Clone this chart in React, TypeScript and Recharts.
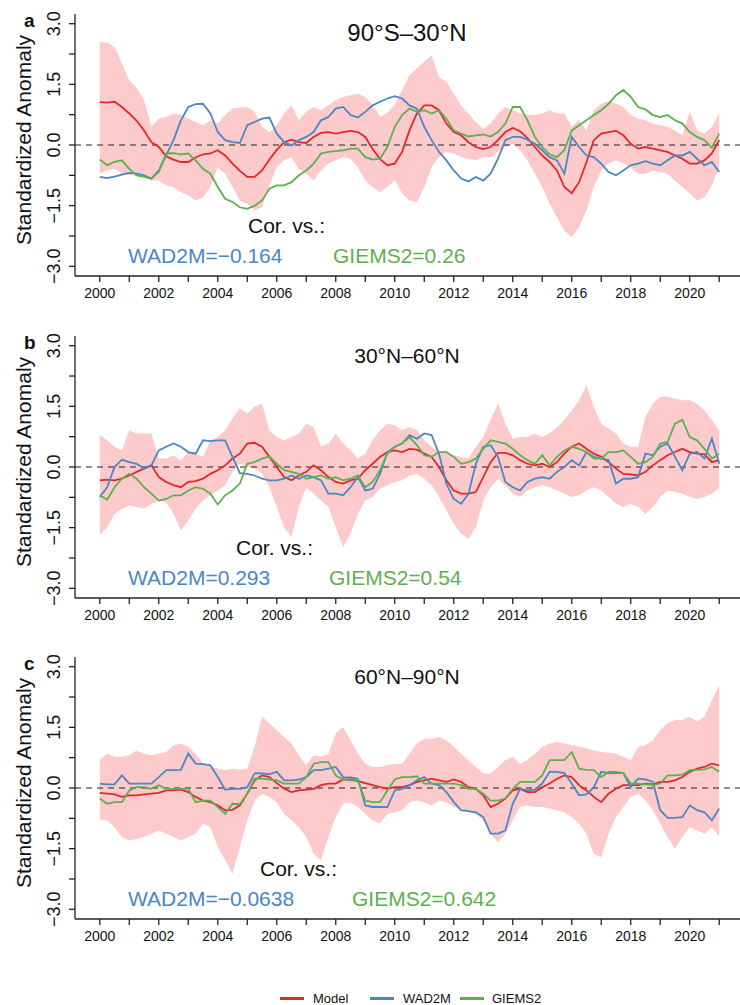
import React from 'react';
import { Area, ComposedChart, Line, ReferenceLine, XAxis, YAxis } from 'recharts';

// quarterly time axis, 2000.00 .. 2021.00
const years = Array.from({ length: 85 }, (_, i) => 2000 + i / 4);

// ---- panel a: 90°S–30°N
const aModel = [
  1.06, 1.05, 1.07, 0.94, 0.78, 0.6, 0.36, 0.07, -0.05, -0.28, -0.36, -0.42,
  -0.42, -0.31, -0.23, -0.21, -0.13, -0.26, -0.46, -0.64, -0.79, -0.79, -0.63, -0.36,
  -0.12, 0.07, 0.13, 0.07, 0.05, 0.2, 0.3, 0.32, 0.28, 0.32, 0.35, 0.32,
  0.2, -0.1, -0.35, -0.5, -0.46, -0.17, 0.36, 0.78, 0.98, 0.98, 0.86, 0.53,
  0.32, 0.24, 0.07, -0.05, -0.1, -0.05, 0.12, 0.32, 0.42, 0.34, 0.17, -0.05,
  -0.26, -0.42, -0.63, -1.04, -1.19, -0.92, -0.42, 0.12, 0.28, 0.32, 0.35, 0.24,
  0.03, -0.09, -0.05, -0.09, -0.13, -0.17, -0.26, -0.34, -0.46, -0.46, -0.38, -0.21, 0.12,
];
const aWad = [
  -0.79, -0.82, -0.78, -0.73, -0.69, -0.71, -0.75, -0.83, -0.63, -0.26, 0.12, 0.61,
  0.94, 1.01, 1.02, 0.78, 0.32, 0.12, 0.07, 0.05, 0.49, 0.57, 0.65, 0.68,
  0.28, 0.07, -0.01, 0.12, 0.2, 0.32, 0.61, 0.69, 0.9, 0.94, 0.74, 0.68,
  0.82, 0.98, 1.07, 1.15, 1.21, 1.15, 0.98, 0.9, 0.45, 0.12, -0.17, -0.38,
  -0.63, -0.83, -0.9, -0.79, -0.88, -0.71, -0.34, 0.12, 0.2, 0.2, 0.13, 0.03,
  -0.13, -0.3, -0.38, -0.71, 0.2, -0.05, -0.26, -0.3, -0.46, -0.67, -0.75, -0.63,
  -0.5, -0.46, -0.4, -0.46, -0.5, -0.38, -0.26, -0.26, -0.17, -0.34, -0.5, -0.42, -0.67,
];
const aGiems = [
  -0.36, -0.5, -0.42, -0.38, -0.59, -0.75, -0.79, -0.83, -0.67, -0.21, -0.2, -0.23,
  -0.21, -0.38, -0.59, -0.71, -1.04, -1.33, -1.41, -1.54, -1.58, -1.5, -1.37, -1.08,
  -1.0, -1.0, -0.92, -0.75, -0.63, -0.46, -0.21, -0.17, -0.15, -0.13, -0.09, -0.09,
  -0.3, -0.36, -0.34, -0.05, 0.45, 0.74, 0.9, 0.82, 0.86, 0.78, 0.86, 0.65,
  0.36, 0.28, 0.21, 0.24, 0.26, 0.21, 0.32, 0.53, 0.94, 0.94, 0.61, 0.2,
  -0.05, -0.23, -0.3, -0.13, 0.36, 0.49, 0.61, 0.74, 0.86, 1.02, 1.23, 1.36,
  1.19, 0.94, 0.88, 0.74, 0.69, 0.74, 0.61, 0.53, 0.32, 0.2, 0.12, -0.07, 0.28,
];
const aHigh = [
  2.55, 2.53, 2.43, 2.02, 1.6, 1.42, 1.11, 0.45, 0.65, 0.69, 0.78, 0.74,
  0.65, 0.57, 0.49, 0.61, 0.53, 0.74, 0.9, 0.93, 0.94, 0.82, 0.45, 0.32,
  0.49, 0.78, 0.98, 0.61, 0.82, 0.94, 0.86, 0.98, 1.11, 1.19, 1.23, 1.27,
  1.19, 1.0, 0.7, 0.8, 1.0, 1.36, 1.73, 1.89, 2.06, 2.22, 1.69, 1.56,
  1.27, 0.98, 0.78, 0.57, 0.4, 0.53, 0.78, 0.94, 0.86, 0.78, 0.74, 0.74,
  0.78, 0.86, 0.78, 0.78, 0.45, 0.61, 0.36, 0.86, 1.02, 1.09, 1.02, 0.94,
  0.74, 0.65, 0.61, 0.53, 0.49, 0.45, 0.36, 0.24, 0.82, 0.36, 0.28, 0.45, 0.78,
];
const aLow = [
  -0.71, -0.63, -0.59, -0.71, -0.75, -0.75, -0.79, -0.88, -0.88, -1.0, -1.04, -1.17,
  -1.25, -1.37, -1.29, -1.04, -0.55, -0.71, -1.04, -1.37, -1.45, -1.62, -1.54, -1.0,
  -0.55, -0.38, -0.3, -0.6, -0.71, -0.88, -0.63, -0.46, -0.38, -0.3, -0.34, -0.55,
  -0.88, -1.04, -1.17, -1.04, -0.88, -1.2, -1.37, -1.41, -1.04, -0.55, -0.3, -0.17,
  -0.21, -0.3, -0.34, -0.38, -0.3, -0.3, -0.17, -0.05, 0.03, -0.13, -0.38, -0.71,
  -1.04, -1.45, -1.79, -2.12, -2.28, -2.03, -1.62, -1.04, -0.63, -0.46, -0.38, -0.46,
  -0.55, -0.71, -0.71, -0.63, -0.67, -0.71, -0.88, -1.04, -1.2, -1.37, -1.29, -1.0, -0.55,
];

// ---- panel b: 30°N–60°N
const bModel = [
  -0.33, -0.31, -0.33, -0.29, -0.21, -0.12, -0.04, 0.04, -0.25, -0.37, -0.45, -0.5,
  -0.37, -0.35, -0.29, -0.17, -0.08, 0.04, 0.21, 0.33, 0.58, 0.6, 0.5, 0.25,
  0, -0.25, -0.33, -0.21, -0.12, 0.04, -0.08, -0.25, -0.37, -0.41, -0.33, -0.29,
  -0.08, 0.08, 0.25, 0.37, 0.41, 0.37, 0.45, 0.43, 0.33, 0.25, 0, -0.33,
  -0.58, -0.66, -0.66, -0.62, -0.25, 0.12, 0.35, 0.35, 0.29, 0.17, 0.08, 0.04,
  0.08, 0, 0.12, 0.33, 0.5, 0.58, 0.45, 0.33, 0.25, 0.12, -0.04, -0.17,
  -0.18, -0.21, -0.12, 0.04, 0.17, 0.29, 0.37, 0.45, 0.37, 0.33, 0.31, 0.12, 0.17,
];
const bWad = [
  -0.74, -0.5, 0, 0.18, 0.12, 0.08, -0.04, 0.04, 0.41, 0.5, 0.58, 0.5,
  0.37, 0.33, 0.66, 0.64, 0.66, 0.66, 0.25, -0.15, -0.17, -0.21, -0.29, -0.33,
  -0.33, -0.29, -0.21, -0.29, -0.21, -0.25, -0.33, -0.66, -0.66, -0.7, -0.5, -0.25,
  -0.58, -0.54, -0.17, 0.37, 0.5, 0.58, 0.79, 0.7, 0.83, 0.79, 0.33, -0.41,
  -0.79, -0.91, -0.66, 0.08, 0.5, 0.54, 0.25, -0.37, -0.5, -0.58, -0.37, -0.29,
  -0.25, -0.29, -0.12, 0, 0.17, 0.04, 0.37, 0.25, 0.21, 0.17, -0.41, -0.29,
  -0.29, -0.25, 0.33, 0.29, 0.5, 0.58, 0.25, -0.08, 0.33, 0.37, 0.21, 0.7, 0.08,
];
const bGiems = [
  -0.7, -0.81, -0.5, -0.29, -0.17, -0.29, -0.5, -0.66, -0.83, -0.79, -0.7, -0.7,
  -0.58, -0.5, -0.54, -0.66, -0.93, -0.7, -0.58, -0.41, 0.08, 0.12, 0.21, 0.26,
  0.08, -0.08, -0.12, -0.17, -0.29, -0.25, -0.21, -0.29, -0.25, -0.33, -0.29, -0.21,
  -0.5, -0.37, -0.08, 0.33, 0.5, 0.58, 0.74, 0.54, 0.29, 0.25, 0.37, 0.37,
  0.25, 0.08, 0.12, 0.21, 0.45, 0.66, 0.62, 0.58, 0.45, 0.29, 0.17, 0.08,
  0.29, 0.04, 0.25, 0.41, 0.5, 0.45, 0.37, 0.21, 0.21, 0.37, 0.37, 0.41,
  0.25, 0.08, 0.12, 0.25, 0.58, 0.62, 1.07, 1.17, 0.74, 0.66, 0.45, 0.21, 0.33,
];
const bHigh = [
  0.79, 0.66, 0.5, 0.41, 0.91, 0.83, 0.83, 0.83, 0.21, 0.21, 0.29, 0.17,
  0.37, 0.33, 0.25, 0.66, 0.74, 0.91, 1.2, 1.45, 1.32, 1.49, 1.57, 0.91,
  0.74, 0.66, 0.74, 0.83, 1.07, 0.99, 0.5, 0.58, 0.83, 0.58, 0.41, 0.21,
  0.33, 0.66, 0.91, 1.07, 1.03, 0.91, 0.99, 0.91, 0.66, 0.5, 0.37, 0.37,
  0.29, 0.25, 0.21, 0.5, 0.74, 1.16, 1.57, 1.07, 0.7, 0.74, 0.74, 0.83,
  0.74, 0.83, 0.99, 1.16, 1.4, 1.65, 2.02, 1.49, 1.07, 0.95, 0.83, 0.58,
  0.5, 0.5, 1.24, 1.57, 1.74, 1.74, 1.69, 1.65, 1.65, 1.57, 1.4, 1.16, 0.91,
];
const bLow = [
  -1.69, -1.49, -1.16, -1.03, -0.95, -0.99, -1.03, -0.91, -0.83, -0.87, -1.16, -1.57,
  -1.32, -1.03, -0.83, -0.7, -0.58, -0.45, -0.12, 0.08, 0, -0.04, -0.17, -0.5,
  -0.99, -1.49, -1.74, -0.99, -0.5, -0.66, -0.83, -0.99, -1.49, -1.98, -1.65, -1.16,
  -0.83, -0.74, -0.54, -0.45, -0.37, -0.33, -0.21, -0.17, -0.29, -0.45, -0.74, -1.07,
  -1.4, -1.65, -1.78, -1.49, -0.83, -0.5, -0.29, -0.45, -0.66, -0.74, -0.58, -0.5,
  -0.45, -0.5, -0.58, -0.66, -0.74, -0.7, -0.58, -0.5, -0.58, -0.74, -0.91, -0.99,
  -0.91, -0.99, -1.16, -0.99, -0.74, -0.58, -0.62, -0.66, -0.74, -0.79, -0.74, -0.66, -0.5,
];

// ---- panel c: 60°N–90°N
const cModel = [
  -0.12, -0.14, -0.16, -0.22, -0.18, -0.18, -0.16, -0.14, -0.12, -0.06, -0.06, -0.04,
  -0.1, -0.22, -0.31, -0.35, -0.43, -0.55, -0.54, -0.43, -0.14, 0.19, 0.31, 0.27,
  0.12, -0.02, -0.1, -0.06, -0.04, -0.02, 0.07, 0.11, 0.11, 0.21, 0.21, 0.17,
  0.12, 0.07, 0.02, -0.02, 0.02, 0.02, 0.07, 0.15, 0.19, 0.23, 0.19, 0.15,
  0.21, 0.15, 0.02, -0.02, -0.18, -0.47, -0.39, -0.26, -0.06, -0.02, -0.1, -0.1,
  0.02, 0.11, 0.23, 0.31, 0.27, 0.07, -0.06, -0.22, -0.35, -0.14, -0.02, 0.07,
  0.07, 0.07, 0.11, 0.09, 0.15, 0.15, 0.19, 0.27, 0.4, 0.48, 0.52, 0.6, 0.56,
];
const cWad = [
  0.11, 0.09, 0.09, 0.31, 0.11, 0.11, 0.11, 0.11, 0.27, 0.44, 0.44, 0.45,
  0.85, 0.6, 0.59, 0.56, 0.27, -0.04, -0.02, -0.02, 0.02, 0.36, 0.36, 0.34,
  0.4, 0.19, 0.19, 0.21, 0.27, 0.44, 0.44, 0.48, 0.52, 0.27, 0.26, 0.23,
  -0.43, -0.47, -0.47, -0.47, -0.06, -0.02, 0.07, 0.19, 0.27, 0.11, 0.07, -0.1,
  -0.35, -0.55, -0.57, -0.6, -0.72, -1.13, -1.13, -1.05, -0.39, -0.02, -0.06, -0.04,
  0.11, 0.4, 0.4, 0.37, 0.11, -0.18, -0.16, 0.02, 0.4, 0.37, 0.37, 0.37,
  0.02, 0.23, 0.21, 0.15, -0.55, -0.74, -0.74, -0.72, -0.43, -0.55, -0.6, -0.8, -0.51,
];
const cGiems = [
  -0.26, -0.39, -0.35, -0.35, -0.06, 0.02, 0.02, -0.02, 0.07, -0.02, -0.02, -0.02,
  -0.02, -0.35, -0.31, -0.31, -0.47, -0.64, -0.39, -0.4, -0.14, 0.23, 0.23, 0.21,
  0.19, 0.11, 0.11, 0.11, 0.27, 0.6, 0.64, 0.64, 0.31, 0.21, 0.19, 0.19,
  -0.31, -0.35, -0.35, -0.06, 0.21, 0.27, 0.27, 0.29, 0.11, 0.11, 0.11, 0.11,
  0.11, 0.07, -0.02, -0.02, -0.14, -0.31, -0.31, -0.26, -0.02, 0.15, 0.15, 0.15,
  0.31, 0.69, 0.69, 0.69, 0.89, 0.48, 0.45, 0.44, 0.27, 0.4, 0.4, 0.37,
  0.11, 0.11, 0.09, 0.07, 0.11, 0.31, 0.31, 0.33, 0.44, 0.45, 0.46, 0.52, 0.4,
];
const cHigh = [
  0.69, 0.85, 0.77, 0.77, 0.81, 0.93, 0.85, 0.81, 0.85, 0.89, 1.06, 1.1,
  1.02, 0.85, 0.6, 0.52, 0.48, 0.44, 0.48, 0.45, 0.48, 1.02, 1.76, 1.6,
  1.43, 1.26, 1.1, 0.81, 0.56, 0.81, 0.77, 0.85, 1.35, 1.51, 1.18, 0.85,
  0.6, 0.52, 0.52, 0.56, 0.6, 0.6, 0.85, 1.1, 1.22, 1.22, 1.26, 1.18,
  1.02, 0.85, 0.69, 0.52, 0.36, 0.36, 0.52, 0.69, 0.77, 0.6, 0.69, 0.85,
  1.02, 1.1, 1.14, 1.1, 1.06, 1.03, 0.98, 0.93, 0.89, 0.87, 0.85, 0.77,
  0.69, 1.02, 1.06, 1.18, 1.43, 1.6, 1.68, 1.68, 1.76, 1.64, 1.76, 2.17, 2.55,
];
const cLow = [
  -0.8, -0.8, -0.97, -1.21, -1.3, -1.26, -1.21, -1.13, -1.05, -1.13, -1.21, -1.3,
  -1.21, -1.13, -0.88, -0.97, -1.46, -1.79, -2.12, -1.46, -0.8, -0.31, -0.14, -0.22,
  -0.35, -0.64, -0.8, -0.97, -1.21, -1.63, -1.79, -1.21, -0.72, -0.39, -0.35, -0.47,
  -0.64, -0.8, -0.88, -0.64, -0.6, -0.55, -0.35, -0.31, -0.35, -0.43, -0.31, -0.35,
  -0.47, -0.55, -0.6, -0.64, -0.8, -1.13, -1.34, -1.13, -0.8, -0.47, -0.43, -0.47,
  -0.47, -0.51, -0.55, -0.6, -0.72, -0.88, -1.13, -1.63, -1.71, -1.13, -0.72, -0.47,
  -0.22, -0.14, -0.31, -0.55, -0.88, -1.21, -1.5, -1.21, -0.97, -1.05, -1.13, -0.97, -1.21,
];

const xTicks = [
  2000, 2001, 2002, 2003, 2004, 2005, 2006, 2007, 2008, 2009, 2010,
  2011, 2012, 2013, 2014, 2015, 2016, 2017, 2018, 2019, 2020, 2021,
];
const yTicks = [-3, -2.25, -1.5, -0.75, 0, 0.75, 1.5, 2.25, 3];

const RED = '#e3262b';
const BLUE = '#4a87c4';
const GREEN = '#5cb04e';
const BAND = '#fccaca';
const INK = '#222';

const panels = [
  {
    letter: 'a', title: '90°S–30°N', titleSize: 24, top: 14, corX: 248, giemsX: 333,
    wadText: 'WAD2M=−0.164', giemsText: 'GIEMS2=0.26',
    model: aModel, wad: aWad, giems: aGiems, high: aHigh, low: aLow,
  },
  {
    letter: 'b', title: '30°N–60°N', titleSize: 21, top: 336, corX: 236, giemsX: 329,
    wadText: 'WAD2M=0.293', giemsText: 'GIEMS2=0.54',
    model: bModel, wad: bWad, giems: bGiems, high: bHigh, low: bLow,
  },
  {
    letter: 'c', title: '60°N–90°N', titleSize: 21, top: 657, corX: 260, giemsX: 352,
    wadText: 'WAD2M=−0.0638', giemsText: 'GIEMS2=0.642',
    model: cModel, wad: cWad, giems: cGiems, high: cHigh, low: cLow,
  },
];

function XTick({ x, y, payload }: any) {
  if (payload.value % 2 !== 0) return <g />;
  return (
    <text x={x} y={y + 9} textAnchor="middle" dominantBaseline="central" fontSize={14} fill="#111">
      {payload.value}
    </text>
  );
}

function YTick({ x, y, payload }: any) {
  const v = payload.value;
  if (Math.abs(v % 1.5) > 1e-6) return <g />;
  const label = (v < 0 ? '−' : '') + Math.abs(v).toFixed(1);
  const cx = x - 13;
  return (
    <text x={cx} y={y} transform={`rotate(-90, ${cx}, ${y})`} textAnchor="middle"
      dominantBaseline="central" fontSize={18} fill="#111">
      {label}
    </text>
  );
}

const MARGIN_TOP = 10;

function Panel({ p }: { p: (typeof panels)[number] }) {
  const data = years.map((t, i) => ({
    t,
    band: [p.low[i], p.high[i]],
    model: p.model[i],
    wad: p.wad[i],
    giems: p.giems[i],
  }));
  const txt = (left: number, cy: number, size: number, color: string, s: string, extra = {}) => (
    <div style={{
      position: 'absolute', left, top: p.top + cy, fontSize: size, lineHeight: 1,
      color, whiteSpace: 'nowrap', transform: 'translateY(-50%)', ...extra,
    }}>{s}</div>
  );
  return (
    <>
      <div style={{ position: 'absolute', left: 0, top: p.top - MARGIN_TOP }}>
        <ComposedChart width={760} height={302} data={data}
          margin={{ top: MARGIN_TOP, right: 16, left: 15, bottom: 0 }}>
          <XAxis type="number" dataKey="t" domain={[1999.16, 2021.84]} ticks={xTicks} interval={0}
            tick={<XTick />} tickSize={6} height={30} stroke={INK} strokeWidth={1.3} />
          <XAxis xAxisId="top" orientation="top" type="number" dataKey="t" domain={[1999.16, 2021.84]}
            tick={false} tickLine={false} height={0} stroke={INK} strokeWidth={1.3} />
          <YAxis type="number" domain={[-3.24, 3.24]} ticks={yTicks} interval={0} width={60}
            tick={<YTick />} tickSize={6} stroke={INK} strokeWidth={1.3} />
          <Area type="linear" dataKey="band" stroke="none" fill={BAND} fillOpacity={1}
            isAnimationActive={false} activeDot={false} />
          <ReferenceLine y={0} stroke={INK} strokeDasharray="6 5" strokeWidth={1.2} />
          <Line type="linear" dataKey="model" stroke={RED} strokeWidth={1.8} dot={false}
            isAnimationActive={false} />
          <Line type="linear" dataKey="wad" stroke={BLUE} strokeWidth={1.8} dot={false}
            isAnimationActive={false} />
          <Line type="linear" dataKey="giems" stroke={GREEN} strokeWidth={1.8} dot={false}
            isAnimationActive={false} />
        </ComposedChart>
      </div>
      {txt(24, 6, 19, '#111', p.letter, { fontWeight: 700 })}
      <div style={{
        position: 'absolute', left: 23, top: p.top + 126, fontSize: 21, lineHeight: 1,
        whiteSpace: 'nowrap', color: '#111', transform: 'translate(-50%, -50%) rotate(-90deg)',
      }}>Standardized Anomaly</div>
      <div style={{
        position: 'absolute', left: 407, top: p.top + 19, fontSize: p.titleSize, lineHeight: 1,
        whiteSpace: 'nowrap', color: '#111', transform: 'translate(-50%, -50%)',
      }}>{p.title}</div>
      {txt(p.corX, 211, 21, '#111', 'Cor. vs.:')}
      {txt(128, 241, 21, BLUE, p.wadText)}
      {txt(p.giemsX, 241, 21, GREEN, p.giemsText)}
    </>
  );
}

const legendItems = [
  { name: 'Model', color: RED, lineX: 280, textX: 313 },
  { name: 'WAD2M', color: BLUE, lineX: 370, textX: 403 },
  { name: 'GIEMS2', color: GREEN, lineX: 460, textX: 492 },
];

export default function App() {
  return (
    <div style={{
      position: 'absolute', left: 0, top: 0, width: 740, height: 1005, overflow: 'hidden',
      background: '#fff', fontFamily: '"Liberation Sans", Arial, sans-serif',
    }}>
      {panels.map((p) => <Panel key={p.letter} p={p} />)}
      {legendItems.map((it) => (
        <React.Fragment key={it.name}>
          <div style={{
            position: 'absolute', left: it.lineX, top: 996.5, width: 24, height: 3, background: it.color,
          }} />
          <div style={{
            position: 'absolute', left: it.textX, top: 998, fontSize: 13, lineHeight: 1,
            color: '#111', transform: 'translateY(-50%)', whiteSpace: 'nowrap',
          }}>{it.name}</div>
        </React.Fragment>
      ))}
    </div>
  );
}
